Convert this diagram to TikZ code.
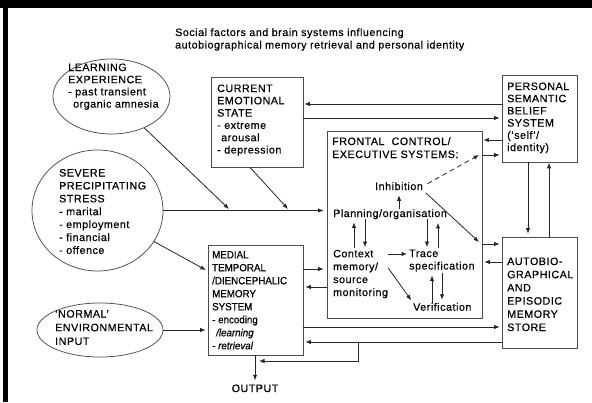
\documentclass[tikz,border=0pt]{standalone}
\usepackage{fontspec}
\newfontfamily\dfont{Liberation Sans}[LetterSpace=5,FakeBold=0.5]
\newfontfamily\cfont{Liberation Sans}[FakeStretch=0.93,FakeBold=0.5]
\usetikzlibrary{arrows.meta,shapes.geometric}
% left-aligned block of lines whose baseline is the first line's baseline
\newcommand\mlines[1]{\begin{tabular}[t]{@{}l@{}}#1\end{tabular}}

\begin{document}
\begin{tikzpicture}[x=1pt,y=-1pt,
  txt/.style={anchor=base west,inner sep=0pt,font=\dfont\fontsize{10.7}{#1}\selectfont},
  txt/.default=12.9,
  box/.style={draw=black!70,line width=0.75pt,rectangle,inner sep=0pt},
  oval/.style={draw=black!70,line width=0.75pt,ellipse,inner sep=0pt},
  arr/.style={draw=black!85,line width=0.8pt,-{Latex[length=5.5pt,width=4.4pt]},shorten >=1pt},
]
\useasboundingbox (0,0) rectangle (592,402);
\fill[white] (0,0) rectangle (592,402);
% page frame
\fill[black] (0,0) rectangle (592,8);
\fill[black] (3,0) rectangle (8,402);

% ovals: external influences
\node[oval,minimum width=117pt,minimum height=75pt] (learn) at (111.5,96.5) {};
\node[oval,minimum width=131pt,minimum height=121pt] (stress) at (97.5,210.5) {};
\node[oval,minimum width=126pt,minimum height=54pt] (normal) at (100,330) {};

% boxes: systems
\node[box,minimum width=92pt,minimum height=90pt] (emo) at (257,122) {};
\node[box,minimum width=75pt,minimum height=87pt] (pers) at (539.5,118.5) {};
\node[box,minimum width=155pt,minimum height=187pt] (front) at (404.5,224.5) {};
\node[box,minimum width=75pt,minimum height=111pt] (auto) at (539.5,292.5) {};
\node[box,minimum width=95pt,minimum height=110pt] (medial) at (255.5,300) {};

% texts
\node[txt=12.5] (title) at (175,36) {\mlines{Social factors and brain systems influencing\\autobiographical memory retrieval and personal identity}};
\node[txt=12.2] (learnt) at (68,71) {\mlines{LEARNING\\EXPERIENCE\\- past transient\\\hspace{5pt}organic amnesia}};
\node[txt=12.9] (stresst) at (59,176.5) {\mlines{SEVERE\\PRECIPITATING\\STRESS\\- marital\\- employment\\- financial\\- offence}};
\node[txt=13.7] (normalt) at (55,317.5) {\mlines{‘NORMAL’\\ENVIRONMENTAL\\INPUT}};
\node[txt=12.3] (emot) at (217,92) {\mlines{CURRENT\\EMOTIONAL\\STATE\\- extreme\\\hspace{4pt}arousal\\- depression}};
\node[txt=12.2] (perst) at (507,90) {\mlines{PERSONAL\\SEMANTIC\\BELIEF\\SYSTEM\\(‘self’/\\identity)}};
\node[txt=13] (frontt) at (332,145) {\mlines{FRONTAL\ \ CONTROL/\\EXECUTIVE SYSTEMS:}};
\node[txt] (inhib) at (375,190) {Inhibition};
\node[txt] (plan) at (333,217) {Planning/organisation};
\node[txt=12.9] (ctx) at (333,257.3) {\mlines{Context\\memory/\\source\\monitoring}};
\node[txt=12.5] (trace) at (409,257) {\mlines{Trace\\specification}};
\node[txt] (verif) at (413,310.7) {Verification};
\node[txt=13.2] (autot) at (507,265) {\mlines{AUTOBIO-\\GRAPHICAL\\AND\\EPISODIC\\MEMORY\\STORE}};
\node[anchor=base west,inner sep=0pt,font=\cfont\fontsize{10.5}{13}\selectfont] (medialt) at (212,258.3)
  {\mlines{MEDIAL\\TEMPORAL\\/DIENCEPHALIC\\MEMORY\\SYSTEM\\- encoding\\\hspace{4pt}\itshape /learning\\\itshape - retrieval}};
\node[txt,anchor=base] (output) at (255,392) {OUTPUT};

% connectors between the boxes
\draw[arr] (pers.west |- 0,104) -- (emo.east |- 0,104);
\draw[arr,shorten >=2pt] (emo.east |- 0,118) -- (pers.west |- 0,118);
\draw[arr] (pers.west |- 0,140) -- (front.east |- 0,140);
\draw[arr,shorten >=2pt] (front.east |- 0,155) -- (pers.west |- 0,155);
\draw[arr,shorten >=2pt] (front.east |- 0,244) -- (auto.west |- 0,244);
\draw[arr,shorten >=2pt] (auto.west |- 0,262) -- (front.east |- 0,262);
\draw[arr,shorten >=3pt] (pers.south -| 528,0) -- (auto.north -| 528,0);
\draw[arr,shorten >=0.5pt] (auto.north -| 549,0) -- (pers.south -| 549,0);

\coordinate (lj) at (229,209);
\coordinate (ej) at (288,209);
\draw[arr,shorten >=0pt] (learn) -- (lj);
\draw[arr,shorten >=0pt] (emo.south -| 250,0) -- (ej);
\draw[arr,shorten >=3pt] (stress.east) -- (front.west |- stress.east);
\draw[arr,shorten >=2pt] (stress) -- (medial.west |- 0,271);
\draw[arr,shorten >=2pt] (normal.east) -- (medial.west |- normal.east);
\draw[arr,shorten >=3pt] (medial.east |- 0,269) -- (front.west |- 0,269);
\draw[arr,shorten >=2pt] (front.west |- 0,287) -- (medial.east |- 0,287);
\draw[arr,shorten >=2pt] (medial.east |- 0,327) -- (auto.west |- 0,327);
\draw[arr,shorten >=2pt] (auto.west |- 0,342) -- (medial.east |- 0,342);
\coordinate (br) at (358,342);
\coordinate (bt) at (259,361);
\draw[arr,shorten >=0pt] (br) |- (bt);
\draw[arr,shorten >=4pt] (medial.south -| output.north) -- (output.north);

% connectors inside the executive system
\coordinate (dh) at (479,155);
\coordinate (ih) at (479,242);
\draw[arr,dash pattern=on 5pt off 3.5pt,shorten <=5pt,shorten >=0pt] (inhib.east) -- (dh);
\draw[arr,shorten <=4pt,shorten >=0pt] (inhib.south east) -- (ih);
\draw[arr,shorten >=5pt] (inhib.south |- plan.north) -- (inhib.south);
\draw[arr,shorten >=3pt] (354,0 |- ctx.north) -- (354,0 |- plan.south);
\draw[arr] (365,0 |- plan.south) -- (365,0 |- ctx.north);
\draw[arr] (427,0 |- plan.south) -- (427,0 |- trace.north);
\draw[arr,shorten >=3.5pt] (438,0 |- trace.north) -- (438,0 |- plan.south);
\draw[arr,shorten >=2pt] (ctx.east |- 0,254) -- (trace.west |- 0,254);
\draw[arr,shorten >=3pt] (ctx.east |- 0,268) -- (verif.north west);
\draw[arr,shorten >=2pt] (432,0 |- verif.north) -- (432,0 |- trace.south);
\draw[arr,shorten >=3pt] (442,0 |- trace.south) -- (442,0 |- verif.north);
\end{tikzpicture}
\end{document}
